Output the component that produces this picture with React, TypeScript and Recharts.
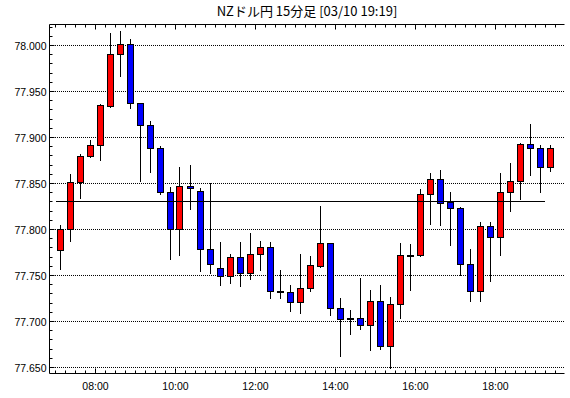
import React from 'react';
import { ComposedChart, Bar, XAxis, YAxis, ReferenceLine, CartesianGrid } from 'recharts';

// 15-minute candles starting 07:00 (last one 19:15)
const openP = [
  77.778, 77.800, 77.852, 77.880, 77.892, 77.934, 77.991, 78.002, 77.938, 77.914,
  77.889, 77.841, 77.800, 77.847, 77.842, 77.779, 77.758, 77.749, 77.770, 77.753,
  77.773, 77.781, 77.7335, 77.7325, 77.721, 77.736, 77.760, 77.785, 77.715, 77.7043,
  77.704, 77.696, 77.722, 77.673, 77.719, 77.7717, 77.772, 77.839, 77.855, 77.830,
  77.823, 77.762, 77.733, 77.804, 77.792, 77.841, 77.853, 77.893, 77.889, 77.868,
];
const highP = [
  77.805, 77.860, 77.882, 77.897, 77.936, 78.014, 78.016, 78.007, 77.938, 77.918,
  77.891, 77.846, 77.868, 77.870, 77.845, 77.850, 77.786, 77.773, 77.786, 77.796,
  77.787, 77.786, 77.756, 77.740, 77.773, 77.771, 77.825, 77.785, 77.725, 77.713,
  77.747, 77.734, 77.740, 77.727, 77.785, 77.784, 77.844, 77.861, 77.865, 77.841,
  77.824, 77.779, 77.808, 77.808, 77.861, 77.872, 77.894, 77.915, 77.892, 77.892,
];
const lowP = [
  77.757, 77.788, 77.834, 77.879, 77.876, 77.933, 77.967, 77.932, 77.853, 77.862,
  77.839, 77.768, 77.772, 77.822, 77.755, 77.753, 77.740, 77.742, 77.739, 77.746,
  77.756, 77.725, 77.726, 77.711, 77.709, 77.733, 77.759, 77.707, 77.662, 77.686,
  77.692, 77.669, 77.670, 77.649, 77.704, 77.734, 77.771, 77.806, 77.805, 77.783,
  77.751, 77.722, 77.722, 77.744, 77.772, 77.820, 77.833, 77.859, 77.841, 77.864,
];
const closeP = [
  77.801, 77.852, 77.880, 77.892, 77.935, 77.991, 78.002, 77.938, 77.914, 77.889,
  77.841, 77.800, 77.847, 77.845, 77.779, 77.763, 77.749, 77.770, 77.753, 77.773,
  77.781, 77.733, 77.7325, 77.721, 77.736, 77.761, 77.785, 77.715, 77.703, 77.7032,
  77.696, 77.722, 77.673, 77.719, 77.772, 77.7728, 77.839, 77.855, 77.829, 77.823,
  77.762, 77.733, 77.804, 77.792, 77.841, 77.853, 77.893, 77.889, 77.868, 77.889,
];

const refLevel = 77.83;
const refStartMin = 0;
const refEndMin = 733.5;

const xLabelMinutes = [60, 180, 300, 420, 540, 660];
const xLabels = ['08:00', '10:00', '12:00', '14:00', '16:00', '18:00'];

const yMinorTicks = [
  77.65, 77.66, 77.67, 77.68, 77.69, 77.70, 77.71, 77.72, 77.73, 77.74,
  77.75, 77.76, 77.77, 77.78, 77.79, 77.80, 77.81, 77.82, 77.83, 77.84,
  77.85, 77.86, 77.87, 77.88, 77.89, 77.90, 77.91, 77.92, 77.93, 77.94,
  77.95, 77.96, 77.97, 77.98, 77.99, 78.00, 78.01, 78.02,
];
const yGridValues = [77.65, 77.70, 77.75, 77.80, 77.85, 77.90, 77.95, 78.00];

const title = 'NZドル円 15分足 [03/10 19:19]';

const CANDLE_MIN = 15;
const data = openP.map((o, i) => ({
  t: i * CANDLE_MIN + CANDLE_MIN / 2,
  open: o,
  high: highP[i],
  low: lowP[i],
  close: closeP[i],
}));
const xTicks = Array.from({ length: 51 }, (_, i) => i * CANDLE_MIN);

const X_DOMAIN: [number, number] = [-9, 763.5];
const Y_DOMAIN: [number, number] = [77.643478, 78.022826];
const W = 570;
const H = 398;
const PLOT_W = 515;
const FONT = '"Liberation Sans", Arial, sans-serif';

const crisp = (v: number) => Math.round(v - 0.5) + 0.5;

const isMajorY = (v: number) => Math.abs(v * 20 - Math.round(v * 20)) < 1e-6;

const Candle = (props: any) => {
  const { x, y, width, height, payload } = props;
  if (!payload || height == null) return null;
  const { open, close, high, low } = payload;
  const range = high - low;
  const toY = (v: number) => (range === 0 ? y : y + ((high - v) / range) * height);
  const cx = crisp(x + width / 2);
  const yH = Math.round(toY(high));
  const yL = Math.round(toY(low));
  const top = Math.round(toY(Math.max(open, close))) + 0.5;
  const bot = Math.round(toY(Math.min(open, close))) + 0.5;
  const bh = Math.max(bot - top, 1);
  const up = close >= open;
  return (
    <g>
      <line x1={cx} x2={cx} y1={yH} y2={yL + 1} stroke="#000" strokeWidth={1} />
      <rect x={cx - 3} y={top} width={6} height={bh} fill={up ? '#FF0000' : '#0000FF'} stroke="#000" strokeWidth={1} />
    </g>
  );
};

const LeftTick = (props: any) => {
  const { x, y, payload } = props;
  const v = payload.value as number;
  const major = isMajorY(v);
  const yy = crisp(y);
  return (
    <g>
      <line x1={x} x2={x + (major ? 5 : 3)} y1={yy} y2={yy} stroke="#000" strokeWidth={1} />
      {major && (
        <text x={x - 3} y={yy + 4} textAnchor="end" fontSize={10.5} fontFamily={FONT} fill="#000">
          {v.toFixed(3)}
        </text>
      )}
    </g>
  );
};

const RightTick = (props: any) => {
  const { x, y, payload } = props;
  const major = isMajorY(payload.value as number);
  const yy = crisp(y);
  return <line x1={x} x2={x - (major ? 5 : 3)} y1={yy} y2={yy} stroke="#000" strokeWidth={1} />;
};

const TopTick = (props: any) => {
  const { x, y, payload } = props;
  const major = xLabelMinutes.includes(payload.value);
  const xx = crisp(x);
  return <line x1={xx} x2={xx} y1={y} y2={y + (major ? 5 : 3)} stroke="#000" strokeWidth={1} />;
};

const BottomTick = (props: any) => {
  const { x, y, payload } = props;
  const idx = xLabelMinutes.indexOf(payload.value);
  const major = idx >= 0;
  const xx = crisp(x);
  return (
    <g>
      <line x1={xx} x2={xx} y1={y} y2={y - (major ? 5 : 3)} stroke="#000" strokeWidth={1} />
      {major && (
        <text x={xx} y={y + 16.5} textAnchor="middle" fontSize={10.5} fontFamily={FONT} fill="#000">
          {xLabels[idx]}
        </text>
      )}
    </g>
  );
};

const RefShape = (props: any) => {
  const { x1, x2, y1 } = props;
  if (x1 == null) return null;
  const yy = crisp(y1);
  return <line x1={Math.round(x1)} x2={Math.round(x2)} y1={yy} y2={yy} stroke="#000" strokeWidth={1} />;
};

export default function App() {
  return (
    <div style={{ position: 'absolute', left: 0, top: 0, width: W, height: H, background: '#fff' }}>
      <div
        style={{
          position: 'absolute',
          left: 49.5,
          top: 2,
          width: PLOT_W,
          textAlign: 'center',
          fontFamily: '"Noto Sans CJK JP", sans-serif',
          fontSize: 13,
          lineHeight: '18px',
          color: '#000',
          whiteSpace: 'nowrap',
        }}
      >
        {title}
      </div>
      <ComposedChart
        width={W}
        height={H}
        data={data}
        margin={{ top: 0, right: 5.5, bottom: 0, left: 0 }}
      >
        <CartesianGrid
          vertical={false}
          horizontalValues={yGridValues}
          stroke="#000"
          strokeDasharray="1 1"
          strokeDashoffset={0.5}
        />
        <XAxis
          dataKey="t"
          type="number"
          domain={X_DOMAIN}
          allowDataOverflow
          ticks={xTicks}
          interval={0}
          height={24.5}
          tickSize={0}
          tickMargin={0}
          tickLine={false}
          axisLine={{ stroke: '#000' }}
          tick={<BottomTick />}
        />
        <XAxis
          xAxisId="top"
          orientation="top"
          dataKey="t"
          type="number"
          domain={X_DOMAIN}
          allowDataOverflow
          ticks={xTicks}
          interval={0}
          height={24.5}
          tickSize={0}
          tickMargin={0}
          tickLine={false}
          axisLine={{ stroke: '#000' }}
          tick={<TopTick />}
        />
        <YAxis
          type="number"
          domain={Y_DOMAIN}
          allowDataOverflow
          ticks={yMinorTicks}
          interval={0}
          width={49.5}
          tickSize={0}
          tickMargin={0}
          tickLine={false}
          axisLine={{ stroke: '#000' }}
          tick={<LeftTick />}
        />
        <YAxis
          yAxisId="r"
          orientation="right"
          type="number"
          domain={Y_DOMAIN}
          allowDataOverflow
          ticks={yMinorTicks}
          interval={0}
          width={0}
          tickSize={0}
          tickMargin={0}
          tickLine={false}
          axisLine={{ stroke: '#000' }}
          tick={<RightTick />}
        />
        <Bar
          dataKey={(d: any) => [d.low, d.high]}
          barSize={10}
          shape={(p: any) => <Candle {...p} />}
          isAnimationActive={false}
        />
        <ReferenceLine
          segment={[
            { x: refStartMin, y: refLevel },
            { x: refEndMin, y: refLevel },
          ]}
          stroke="#000"
          shape={(p: any) => <RefShape {...p} />}
        />
      </ComposedChart>
    </div>
  );
}
